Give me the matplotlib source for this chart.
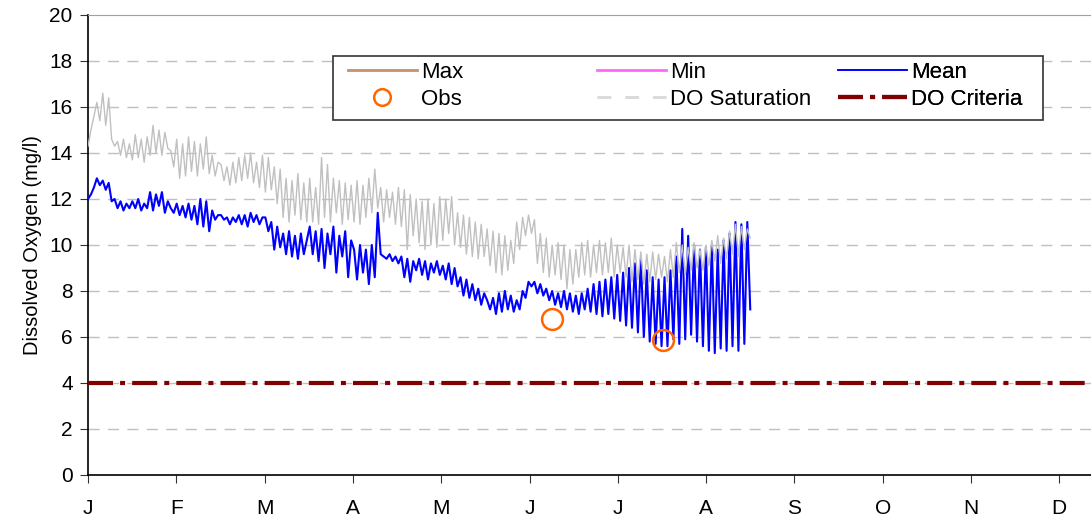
import matplotlib
matplotlib.use("Agg")
import matplotlib.pyplot as plt
from matplotlib.lines import Line2D
from matplotlib.patches import Rectangle
import numpy as np

plt.rcParams['font.family'] = ['Liberation Sans', 'DejaVu Sans']

months = ['J', 'F', 'M', 'A', 'M', 'J', 'J', 'A', 'S', 'O', 'N', 'D']

# daily-ish mean DO, Jan 1 to mid Aug (mg/l)
mean_do = [
    12.0, 12.2, 12.5, 12.9, 12.6, 12.8, 12.4, 12.7, 11.9, 12.0, 11.6, 11.9, 11.5, 11.8, 11.6,
    11.9, 11.6, 12.0, 11.5, 11.8, 11.6, 12.3, 11.5, 12.2, 11.7, 12.3, 11.4, 11.9, 11.6, 11.4,
    11.8, 11.3, 11.7, 11.2, 11.8, 11.1, 11.7, 10.9, 12.0, 10.8, 11.9, 10.6, 11.5, 11.1, 11.3,
    11.3, 11.1, 11.2, 10.9, 11.2, 11.0, 11.3, 10.9, 11.3, 10.8, 11.4, 11.0, 11.3, 10.9, 11.2,
    11.2, 10.6, 11.0, 9.8, 10.8, 9.9, 10.5, 9.6, 10.6, 9.5, 10.4, 9.4, 10.5, 9.6, 10.2,
    10.8, 9.6, 10.6, 9.3, 10.7, 9.0, 10.5, 9.6, 10.8, 8.8, 10.4, 9.5, 10.6, 8.6, 10.2,
    9.8, 8.5, 10.0, 8.8, 9.8, 8.3, 10.0, 8.6, 11.4, 9.6, 9.5, 9.4, 9.6, 9.3, 9.5,
    9.2, 9.5, 8.6, 9.4, 8.4, 9.3, 8.9, 9.4, 8.7, 9.3, 8.5, 9.2, 8.8, 9.3, 8.7,
    9.1, 8.5, 9.2, 8.3, 9.0, 8.2, 8.6, 7.8, 8.5, 7.7, 8.3, 7.6, 8.1, 7.4, 7.9,
    7.6, 7.2, 7.7, 7.0, 7.9, 7.1, 8.0, 7.2, 7.8, 7.1, 7.6, 7.2, 8.0, 7.7, 8.4,
    8.2, 8.4, 7.9, 8.3, 7.8, 8.1, 7.6, 8.0, 7.4, 7.9, 7.3, 8.0, 7.2, 7.9, 7.1,
    7.8, 7.0, 7.9, 7.2, 8.1, 7.1, 8.3, 7.0, 8.4, 6.9, 8.5, 7.0, 8.6, 6.8, 8.7,
    6.7, 8.8, 6.5, 9.0, 6.4, 9.2, 6.2, 9.4, 6.0, 8.9, 5.8, 8.6, 5.7, 8.5, 5.6,
    8.6, 5.6, 8.9, 5.9, 9.5, 5.7, 10.7, 5.9, 10.4, 6.1, 10.0, 5.8, 9.8, 5.6, 9.9,
    5.4, 10.0, 5.3, 9.8, 5.5, 10.2, 5.4, 10.5, 5.6, 11.0, 5.4, 10.9, 5.7, 11.0, 7.2,
]

do_sat = [
    14.3, 15.0, 15.6, 16.2, 15.4, 16.6, 15.2, 16.4, 14.6, 14.3, 14.5, 13.9, 14.6, 13.8, 14.4,
    13.7, 14.8, 13.8, 14.6, 13.6, 14.7, 13.9, 15.2, 14.0, 15.0, 13.9, 14.9, 14.2, 14.1, 13.4,
    14.6, 12.9, 14.4, 13.0, 14.7, 13.2, 14.5, 13.0, 14.4, 13.3, 14.7, 13.1, 13.9, 13.0, 13.6,
    13.5, 12.8, 13.4, 12.6, 13.6, 12.7, 13.8, 12.8, 13.9, 12.9, 14.0, 12.7, 13.6, 12.5, 13.9,
    12.3, 13.8, 12.4, 13.4, 11.8, 13.3, 11.2, 12.9, 11.0, 12.8, 11.3, 13.1, 11.1, 12.7, 11.0,
    12.9, 11.0, 12.5, 10.9, 13.8, 11.2, 13.5, 11.0, 12.9, 11.4, 12.8, 10.9, 12.7, 11.1, 12.6,
    11.0, 12.8, 10.9, 12.6, 11.2, 12.9, 11.4, 13.3, 11.6, 12.5, 11.0, 12.4, 11.2, 12.3, 10.9,
    12.5, 10.8, 12.4, 9.8, 12.2, 10.4, 12.0, 10.1, 11.9, 9.8, 12.0, 10.0, 11.8, 9.9, 12.1,
    10.2, 12.0, 10.5, 12.1, 10.0, 11.4, 9.9, 11.3, 9.6, 11.2, 9.5, 11.0, 9.4, 10.9, 9.5,
    10.7, 9.1, 10.6, 8.8, 10.5, 8.7, 10.4, 8.9, 10.2, 9.2, 11.0, 9.8, 11.2, 10.4, 11.3,
    10.5, 11.1, 9.2, 10.5, 8.8, 10.3, 8.6, 10.0, 8.7, 10.1, 8.5, 10.0, 8.1, 9.8, 8.3,
    9.8, 8.6, 10.1, 8.7, 10.2, 8.6, 10.0, 8.8, 10.2, 8.7, 10.1, 8.8, 10.3, 8.6, 10.0,
    8.8, 9.9, 8.6, 10.0, 8.4, 9.8, 8.5, 9.7, 8.3, 9.6, 8.4, 9.7, 8.5, 9.6, 8.6,
    9.5, 8.4, 9.8, 8.6, 10.1, 8.8, 10.0, 8.7, 9.9, 8.9, 10.1, 9.0, 9.8, 8.9, 10.0,
    9.1, 10.2, 9.3, 10.4, 9.2, 10.3, 9.4, 10.6, 9.6, 10.9, 9.5, 10.8, 9.8, 10.7, 10.3,
]

# time in months from Jan 1
t = np.linspace(0, 7.5, len(mean_do))

obs_t = [5.25, 6.51]
obs_do = [6.8, 5.85]

do_criteria = 4.0

fig = plt.figure(figsize=(10.91, 5.25), dpi=100)
ax = fig.add_axes([88 / 1091, 50 / 525, 1003 / 1091, 460 / 525])

ax.plot(t, mean_do, color='#0000FF', lw=1.5, zorder=3)
ax.plot(t, do_sat, color='#C0C0C0', lw=1.0, zorder=4)
ax.plot(obs_t, obs_do, 'o', ms=15, mfc='none', mec='#FF6600', mew=1.8, zorder=5)
ax.axhline(do_criteria, color='#800000', lw=3, dashes=(6, 1.7, 1.2, 1.7), zorder=5)

ax.set_xlim(0, 1003 / 88.3)
ax.set_ylim(0, 20)
ax.set_xticks(range(12))
ax.set_xticklabels(months)
ax.set_yticks(range(0, 21, 2))
ax.tick_params(labelsize=15, length=6, color='#333333')
ax.tick_params(axis='x', pad=11)
ax.tick_params(axis='y', pad=5)
ax.set_ylabel('Dissolved Oxygen (mg/l)', fontsize=14.5, labelpad=5)

for y in range(2, 20, 2):
    ax.axhline(y, color='#C0C0C0', lw=1, dashes=(8, 6), zorder=1)
ax.spines['right'].set_visible(False)
ax.spines['top'].set_color('#A0A0A0')
ax.spines['left'].set_linewidth(1.2)
ax.spines['bottom'].set_linewidth(1.2)

# legend: three columns, Excel-like equal spacing
cols = [
    ([Line2D([], [], color='#C8906A', lw=2),
      Line2D([], [], ls='none', marker='o', ms=12, mfc='none', mec='#FF6600', mew=1.8)],
     ['Max', 'Obs'], 348),
    ([Line2D([], [], color='#FF66FF', lw=2),
      Line2D([], [], color='#D8D8D8', lw=2, dashes=(5, 5))],
     ['Min', 'DO Saturation'], 597),
    ([Line2D([], [], color='#0000FF', lw=1.2),
      Line2D([], [], color='#800000', lw=3, dashes=(6, 1.7, 1.2, 1.7))],
     ['Mean', 'DO Criteria'], 838),
]
for handles, labels, px in cols:
    leg = ax.legend(handles, labels, loc='upper left',
                    bbox_to_anchor=((px - 88) / 1003, (475 - 62) / 460),
                    frameon=False, borderpad=0, borderaxespad=0,
                    handlelength=3.1, handletextpad=0.2, labelspacing=0.25,
                    fontsize=16)
    ax.add_artist(leg)

ax.add_patch(Rectangle(((333 - 88) / 1003, (475 - 120) / 460),
                       (1043 - 333) / 1003, (120 - 56) / 460,
                       transform=ax.transAxes, fill=True, fc='white',
                       ec='#333333', lw=1.2, zorder=6))
for leg in ax.artists:
    leg.set_zorder(7)

fig.savefig('out.png', dpi=100)
